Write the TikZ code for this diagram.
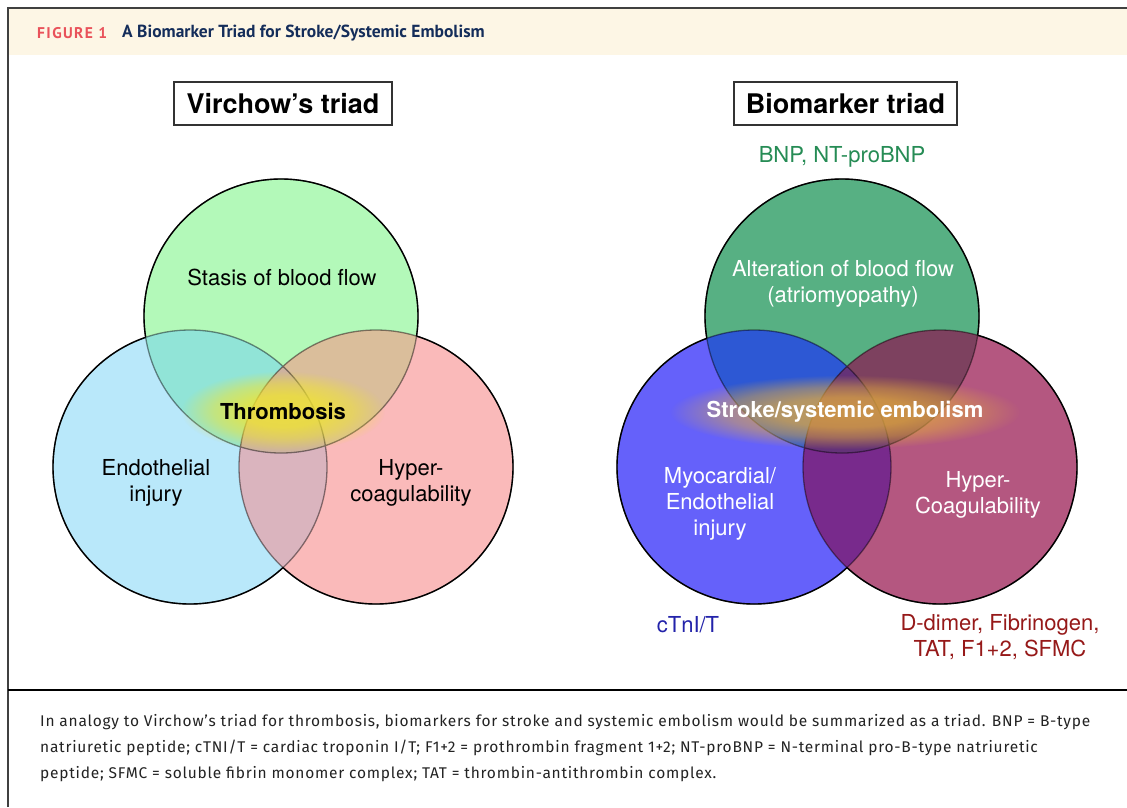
\documentclass[tikz,border=0pt]{standalone}
\usepackage{fontspec}
\setmainfont{TeX Gyre Heros}
\newfontfamily\capfont[LetterSpace=4.9]{Fira Sans}
\newfontfamily\headfont{PT Sans}
\newfontfamily\figfont[LetterSpace=9]{PT Sans}
\usetikzlibrary{fadings}
\definecolor{headbg}{RGB}{253,246,229}
\definecolor{figred}{RGB}{233,82,90}
\definecolor{navy}{RGB}{20,45,90}
\definecolor{captxt}{RGB}{35,35,35}
% left
\definecolor{lg}{RGB}{179,249,185}
\definecolor{lb}{RGB}{185,232,250}
\definecolor{lp}{RGB}{250,186,186}
\definecolor{lgb}{RGB}{145,228,215}
\definecolor{lgp}{RGB}{218,190,155}
\definecolor{lbp}{RGB}{218,180,190}
\definecolor{lgbp}{RGB}{205,178,160}
\definecolor{lglow}{RGB}{240,228,50}
% right
\definecolor{rg}{RGB}{87,176,131}
\definecolor{rb}{RGB}{101,97,250}
\definecolor{rm}{RGB}{180,87,128}
\definecolor{rgb}{RGB}{45,88,212}
\definecolor{rgm}{RGB}{125,65,95}
\definecolor{rbm}{RGB}{120,42,140}
\definecolor{rgbm}{RGB}{100,50,120}
\definecolor{rglow}{RGB}{228,172,62}
\definecolor{bnpgreen}{RGB}{38,140,85}
\definecolor{tnblue}{RGB}{35,35,170}
\definecolor{ddred}{RGB}{150,25,25}
\pgfdeclareradialshading{glowsh}{\pgfpointorigin}{color(0bp)=(white); color(10bp)=(black!8); color(17bp)=(black!40); color(25bp)=(black); color(50bp)=(black)}
\pgfdeclarefading{glowfade}{\pgfuseshading{glowsh}}
\def\R{137pt}
\tikzset{
  lbl/.style={inner sep=0pt, align=center, font=\fontsize{22}{26}\selectfont},
  titlebox/.style={draw=black!80, line width=1.5pt, inner sep=0pt, minimum width=218pt, minimum height=43pt, font=\bfseries\fontsize{27}{30}\selectfont},
  capline/.style={anchor=west, inner sep=0pt, text=captxt, font=\capfont\fontsize{15.5}{18}\selectfont},
  outline/.style={line width=1.4pt, draw=black},
  inline/.style={line width=1.3pt, draw=black, draw opacity=0.45}
}
\begin{document}
\begin{tikzpicture}[x=1pt,y=-1pt]
\useasboundingbox (0,0) rectangle (1127,807);
\fill[white] (0,0) rectangle (1127,807);
% header and frame
\fill[headbg] (9,9) rectangle (1127,55);
\draw[line width=2pt, draw=black!75] (8,807) -- (8,8) -- (1127,8);
\draw[line width=2.2pt] (8,690) -- (1127,690);
\node[anchor=west, inner sep=0pt, text=figred, font=\figfont\bfseries\fontsize{15.5}{17}\selectfont] (fig) at (37,33) {FIGURE 1};
\node[anchor=west, inner sep=0pt, text=navy, font=\headfont\bfseries\fontsize{17.5}{19}\selectfont] (title) at (122,33) {A Biomarker Triad for Stroke/Systemic Embolism};

% ---------- left Venn ----------
\coordinate (LG) at (281,316);
\coordinate (LB) at (190,467);
\coordinate (LP) at (376,467);
\fill[lg] (LG) circle[radius=\R];
\fill[lb] (LB) circle[radius=\R];
\fill[lp] (LP) circle[radius=\R];
\begin{scope}\clip (LG) circle[radius=\R]; \fill[lgb] (LB) circle[radius=\R]; \end{scope}
\begin{scope}\clip (LG) circle[radius=\R]; \fill[lgp] (LP) circle[radius=\R]; \end{scope}
\begin{scope}\clip (LB) circle[radius=\R]; \fill[lbp] (LP) circle[radius=\R]; \end{scope}
\begin{scope}\clip (LG) circle[radius=\R]; \clip (LB) circle[radius=\R]; \fill[lgbp] (LP) circle[radius=\R]; \end{scope}
\draw[inline] (LG) circle[radius=\R] (LB) circle[radius=\R] (LP) circle[radius=\R];
\begin{scope}[even odd rule]
  \clip (0,0) rectangle (1127,807) (LB) circle[radius=\R];
  \clip (0,0) rectangle (1127,807) (LP) circle[radius=\R];
  \draw[outline] (LG) circle[radius=\R];
\end{scope}
\begin{scope}[even odd rule]
  \clip (0,0) rectangle (1127,807) (LG) circle[radius=\R];
  \clip (0,0) rectangle (1127,807) (LP) circle[radius=\R];
  \draw[outline] (LB) circle[radius=\R];
\end{scope}
\begin{scope}[even odd rule]
  \clip (0,0) rectangle (1127,807) (LG) circle[radius=\R];
  \clip (0,0) rectangle (1127,807) (LB) circle[radius=\R];
  \draw[outline] (LP) circle[radius=\R];
\end{scope}
\fill[lglow, fill opacity=0.85, path fading=glowfade] (283,411) ellipse[x radius=102pt, y radius=40pt];

\node[titlebox] (vt) at (283,103.5) {Virchow’s triad};
\node[lbl] (stasis) at (282,277) {Stasis of blood flow};
\node[lbl] (endo) at (156,483) {Endothelial\\injury};
\node[lbl] (hyper) at (411,483) {Hyper-\\coagulability};
\node[lbl, font=\bfseries\fontsize{22}{26}\selectfont] (thromb) at (283,411) {Thrombosis};

% ---------- right Venn ----------
\coordinate (RG) at (842,316);
\coordinate (RB) at (754,467);
\coordinate (RM) at (940,467);
\fill[rg] (RG) circle[radius=\R];
\fill[rb] (RB) circle[radius=\R];
\fill[rm] (RM) circle[radius=\R];
\begin{scope}\clip (RG) circle[radius=\R]; \fill[rgb] (RB) circle[radius=\R]; \end{scope}
\begin{scope}\clip (RG) circle[radius=\R]; \fill[rgm] (RM) circle[radius=\R]; \end{scope}
\begin{scope}\clip (RB) circle[radius=\R]; \fill[rbm] (RM) circle[radius=\R]; \end{scope}
\begin{scope}\clip (RG) circle[radius=\R]; \clip (RB) circle[radius=\R]; \fill[rgbm] (RM) circle[radius=\R]; \end{scope}
\draw[inline] (RG) circle[radius=\R] (RB) circle[radius=\R] (RM) circle[radius=\R];
\begin{scope}[even odd rule]
  \clip (0,0) rectangle (1127,807) (RB) circle[radius=\R];
  \clip (0,0) rectangle (1127,807) (RM) circle[radius=\R];
  \draw[outline] (RG) circle[radius=\R];
\end{scope}
\begin{scope}[even odd rule]
  \clip (0,0) rectangle (1127,807) (RG) circle[radius=\R];
  \clip (0,0) rectangle (1127,807) (RM) circle[radius=\R];
  \draw[outline] (RB) circle[radius=\R];
\end{scope}
\begin{scope}[even odd rule]
  \clip (0,0) rectangle (1127,807) (RG) circle[radius=\R];
  \clip (0,0) rectangle (1127,807) (RB) circle[radius=\R];
  \draw[outline] (RM) circle[radius=\R];
\end{scope}
\fill[rglow, fill opacity=0.8, path fading=glowfade] (845,412) ellipse[x radius=175pt, y radius=37pt];

\node[titlebox, minimum width=223pt] (bt) at (845.5,103.5) {Biomarker triad};
\node[lbl, text=bnpgreen] (bnp) at (842,157) {BNP, NT-proBNP};
\node[lbl, text=white] (alt) at (843,283.5) {Alteration of blood flow\\(atriomyopathy)};
\node[lbl, text=white] (myo) at (720,504) {Myocardial/\\Endothelial\\injury};
\node[lbl, text=white] (hyc) at (978,495) {Hyper-\\Coagulability};
\node[lbl, text=white, font=\bfseries\fontsize{22}{26}\selectfont] (stroke) at (845,412) {Stroke/systemic embolism};
\node[lbl, text=tnblue] (ctn) at (688,625) {cTnI/T};
\node[lbl, text=ddred] (dd) at (1000,637.5) {D-dimer, Fibrinogen,\\TAT, F1+2, SFMC};

% ---------- caption ----------
\node[capline] (c1) at (40,722) {In analogy to Virchow’s triad for thrombosis, biomarkers for stroke and systemic embolism would be summarized as a triad. BNP = B-type};
\node[capline] (c2) at (40,748) {natriuretic peptide; cTNI/T = cardiac troponin I/T; F1+2 = prothrombin fragment 1+2; NT-proBNP = N-terminal pro-B-type natriuretic};
\node[capline] (c3) at (40,774) {peptide; SFMC = soluble fibrin monomer complex; TAT = thrombin-antithrombin complex.};
\end{tikzpicture}
\end{document}
